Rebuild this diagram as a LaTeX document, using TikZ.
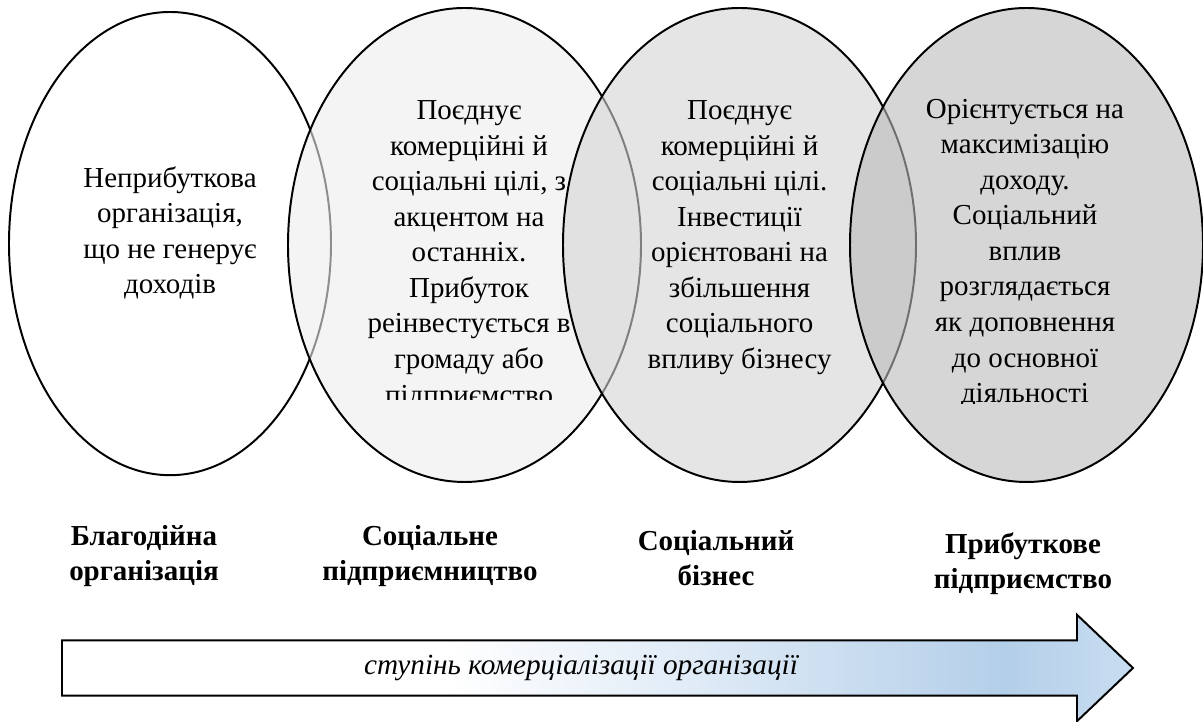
\documentclass[tikz,border=0pt]{standalone}
\usepackage{fontspec}
\setmainfont{Liberation Serif}
\usepackage{xcolor}
\usetikzlibrary{shapes.geometric}

\definecolor{fillsoc}{gray}{0.93}
\definecolor{fillbiz}{gray}{0.83}
\definecolor{fillprof}{gray}{0.73}
\definecolor{arrowmid}{RGB}{222,234,246}
\definecolor{arrowblue}{RGB}{180,207,233}
\definecolor{arrowtip}{RGB}{200,221,241}

\pgfdeclarehorizontalshading{commerce}{100bp}{color(0bp)=(white); color(43bp)=(white); color(55bp)=(arrowmid); color(69bp)=(arrowblue); color(75bp)=(arrowtip); color(100bp)=(arrowtip)}

\begin{document}
\begin{tikzpicture}[
		oval/.style={ellipse, draw=black, line width=1.4pt, inner sep=0pt},
		ovaltext/.style={align=center, inner sep=0pt, font=\fontsize{20.6pt}{25.3pt}\selectfont},
		kind/.style={align=center, inner sep=0pt, font=\fontsize{20.6pt}{25pt}\selectfont\bfseries}
	]
		%picture frame
		\useasboundingbox (0,0) rectangle (30.075,18.05);
		
		%centres of the ovals
		\coordinate (C1) at (4.25,11.96);
		\coordinate (C2) at (11.6125,11.925);
		\coordinate (C3) at (18.4875,11.925);
		\coordinate (C4) at (25.6625,11.925);
		
		%ovals, each one laid over the previous
		\node [oval, fill=white, minimum width=8.05cm, minimum height=11.58cm] (charity) at (C1) {};
		\node [oval, fill=fillsoc, fill opacity=0.6, minimum width=8.825cm, minimum height=11.85cm] (socent) at (C2) {};
		\node [oval, fill=fillbiz, fill opacity=0.6, minimum width=8.825cm, minimum height=11.85cm] (socbiz) at (C3) {};
		\node [oval, fill=fillprof, fill opacity=0.6, minimum width=8.825cm, minimum height=11.85cm] (profit) at (C4) {};
		
		%texts inside the ovals, cut off at the bottom
		\begin{scope}
			\clip (0,8.05) rectangle (22,18.05) (22,7.96) rectangle (30.075,18.05);
			\node [ovaltext] (charity text) at (4.25,12.225) {Неприбуткова\\організація,\\що не генерує\\доходів};
			\node [ovaltext] (socent text) at (11.725,11.665) {Поєднує\\комерційні й\\соціальні цілі, з\\акцентом на\\останніх.\\Прибуток\\реінвестується в\\громаду або\\підприємство};
			\node [ovaltext] (socbiz text) at (18.49,12.11) {Поєднує\\комерційні й\\соціальні цілі.\\Інвестиції\\орієнтовані на\\збільшення\\соціального\\впливу бізнесу};
			\node [ovaltext] (profit text) at (25.625,11.71) {Орієнтується на\\максимізацію\\доходу.\\Соціальний\\вплив\\розглядається\\як доповнення\\до основної\\діяльності};
		\end{scope}
		
		%names of the organisation types
		\node [kind] (charity name) at (3.6,4.14) {Благодійна\\організація};
		\node [kind] (socent name) at (10.75,4.14) {Соціальне\\підприємництво};
		\node [kind] (socbiz name) at (17.9,4.09) {Соціальний\\бізнес};
		\node [kind] (profit name) at (25.575,3.95) {Прибуткове\\підприємство};
		
		%block arrow
		\draw [line width=1.4pt, shade, shading=commerce] (1.55,0.66) -- (1.55,2.04) -- (26.925,2.04) -- (26.925,2.68) -- (28.325,1.35) -- (26.925,0.02) -- (26.925,0.66) -- cycle;
		\node [font=\fontsize{20.8pt}{24pt}\selectfont\itshape] (degree) at (14.525,1.35) {ступінь комерціалізації організації};
	\end{tikzpicture}
\end{document}
